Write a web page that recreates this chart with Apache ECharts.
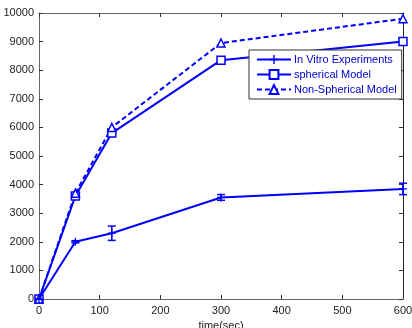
<!DOCTYPE html>
<html>
<head>
<meta charset="utf-8">
<script src="https://cdn.jsdelivr.net/npm/echarts@6/dist/echarts.min.js"></script>
<style>
  html, body { margin: 0; padding: 0; background: #fff; }
  #chart { width: 412px; height: 328px; }
</style>
</head>
<body>
<div id="chart"></div>
<script>
const times = [0, 60, 120, 300, 600];
const inVitro = [0, 2000, 2300, 3550, 3850];
const inVitroErr = [0, 40, 250, 100, 200];
const spherical = [0, 3600, 5800, 8350, 9000];
const nonSpherical = [0, 3700, 6000, 8950, 9800];

const blue = '#0000ff';
const pairs = arr => times.map((t, i) => [t, arr[i]]);

const myChart = echarts.init(document.getElementById('chart'));

const axisText = { color: '#222', fontFamily: 'Liberation Sans', fontSize: 11 };

const option = {
  animation: false,
  grid: { left: 39, right: 9, top: 13, bottom: 29, outerBoundsMode: 'none' },
  legend: {
    orient: 'vertical',
    left: 249,
    top: 50,
    backgroundColor: '#fff',
    borderColor: '#333',
    borderWidth: 1,
    padding: [4, 5, 4, 7],
    itemGap: 4,
    itemWidth: 34,
    itemHeight: 11,
    textStyle: { color: '#0000cc', fontFamily: 'Liberation Sans', fontSize: 11, padding: [0, 0, 0, -2] },
    data: ['In Vitro Experiments', 'spherical Model', 'Non-Spherical Model']
  },
  xAxis: [
    {
      type: 'value', min: 0, max: 600, interval: 100,
      name: 'time(sec)', nameLocation: 'middle', nameGap: 17,
      nameTextStyle: axisText,
      axisLine: { lineStyle: { color: '#666' } },
      axisTick: { inside: true, length: 4, lineStyle: { color: '#333' } },
      axisLabel: Object.assign({ margin: 6 }, axisText),
      splitLine: { show: false }
    },
    {
      type: 'value', min: 0, max: 600, interval: 100, position: 'top',
      axisLine: { show: true, onZero: false, lineStyle: { color: '#666' } },
      axisTick: { inside: true, length: 4, lineStyle: { color: '#333' } },
      axisLabel: { show: false },
      splitLine: { show: false }
    }
  ],
  yAxis: [
    {
      type: 'value', min: 0, max: 10000, interval: 1000,
      axisLine: { show: true, lineStyle: { color: '#666' } },
      axisTick: { show: true, inside: true, length: 4, lineStyle: { color: '#333' } },
      axisLabel: Object.assign({ formatter: v => String(v), margin: 5 }, axisText),
      splitLine: { show: false }
    },
    {
      type: 'value', min: 0, max: 10000, interval: 1000, position: 'right',
      axisLine: { show: true, onZero: false, lineStyle: { color: '#222' } },
      axisTick: { show: true, inside: true, length: 4, lineStyle: { color: '#333' } },
      axisLabel: { show: false },
      splitLine: { show: false }
    }
  ],
  series: [
    {
      name: 'In Vitro Experiments',
      type: 'line',
      data: pairs(inVitro),
      color: blue,
      symbol: 'path://M0,4.2L10,4.2L10,5.8L0,5.8Z M4.2,0L5.8,0L5.8,10L4.2,10Z',
      symbolSize: 8,
      itemStyle: { color: blue, borderWidth: 0 },
      lineStyle: { width: 2, color: blue },
      z: 3
    },
    {
      name: 'In Vitro Errors',
      type: 'custom',
      data: times.map((t, i) => [t, inVitro[i], inVitroErr[i]]),
      renderItem: (params, api) => {
        const x = api.value(0), y = api.value(1), e = api.value(2);
        const top = api.coord([x, y + e]);
        const bot = api.coord([x, y - e]);
        const w = 4;
        return {
          type: 'group',
          children: [
            { type: 'line', shape: { x1: top[0], y1: top[1], x2: bot[0], y2: bot[1] }, style: { stroke: blue, lineWidth: 1.5 } },
            { type: 'line', shape: { x1: top[0] - w, y1: top[1], x2: top[0] + w, y2: top[1] }, style: { stroke: blue, lineWidth: 1.5 } },
            { type: 'line', shape: { x1: bot[0] - w, y1: bot[1], x2: bot[0] + w, y2: bot[1] }, style: { stroke: blue, lineWidth: 1.5 } }
          ]
        };
      },
      z: 3
    },
    {
      name: 'spherical Model',
      type: 'line',
      data: pairs(spherical),
      color: blue,
      symbol: 'rect',
      symbolSize: 8,
      itemStyle: { color: '#fff', borderColor: blue, borderWidth: 1.5 },
      lineStyle: { width: 2, color: blue },
      z: 2
    },
    {
      name: 'Non-Spherical Model',
      type: 'line',
      data: pairs(nonSpherical),
      color: blue,
      symbol: 'triangle',
      symbolSize: 8,
      itemStyle: { color: '#fff', borderColor: blue, borderWidth: 1.5 },
      lineStyle: { width: 2, color: blue, type: [5, 3] },
      z: 2
    }
  ]
};

myChart.setOption(option);
window.addEventListener('resize', () => myChart.resize());
</script>
</body>
</html>
